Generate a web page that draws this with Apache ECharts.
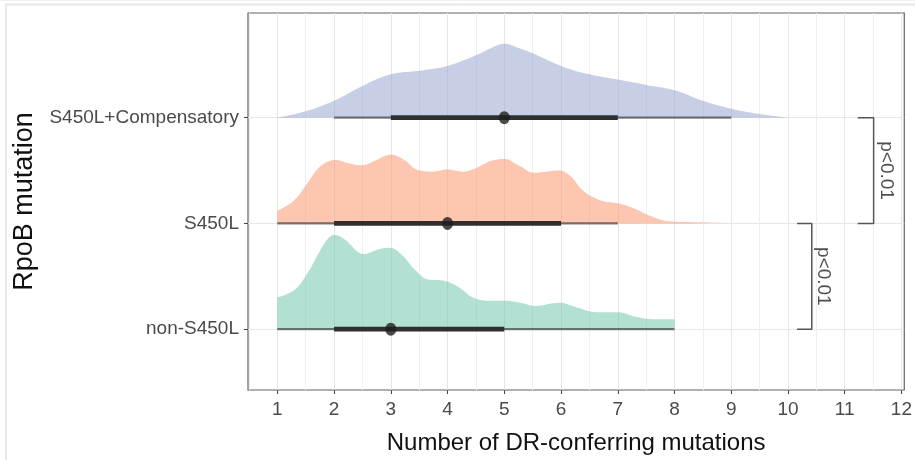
<!DOCTYPE html>
<html><head><meta charset="utf-8">
<script src="https://cdn.jsdelivr.net/npm/echarts@6/dist/echarts.min.js"></script>
<style>html,body{margin:0;padding:0;background:#fff}#c{width:915px;height:460px}</style>
</head><body><div id="c"></div>
<script>
// ---- data ----
const categories = ['non-S450L', 'S450L', 'S450L+Compensatory'];
const xTickValues = [1, 2, 3, 4, 5, 6, 7, 8, 9, 10, 11, 12];
const xMinorValues = [0.5, 1.5, 2.5, 3.5, 4.5, 5.5, 6.5, 7.5, 8.5, 9.5, 10.5, 11.5];
// density heights (in category units above each baseline)
const densityNonS450L = [[1, 0.30], [1.3, 0.37], [1.53, 0.53], [1.76, 0.75], [1.9, 0.86], [2.0, 0.89], [2.1, 0.88], [2.21, 0.84], [2.52, 0.71], [2.75, 0.75], [2.97, 0.77], [3.2, 0.70], [3.43, 0.56], [3.66, 0.47], [3.92, 0.46], [4.19, 0.40], [4.45, 0.30], [4.72, 0.27], [5.02, 0.27], [5.29, 0.25], [5.55, 0.22], [5.97, 0.25], [6.31, 0.20], [6.62, 0.16], [7.0, 0.16], [7.3, 0.12], [7.6, 0.095], [8.0, 0.095]];
const densityS450L = [[1, 0.12], [1.3, 0.22], [1.53, 0.38], [1.76, 0.54], [2.02, 0.60], [2.25, 0.57], [2.48, 0.55], [2.75, 0.60], [2.9, 0.64], [3.0, 0.65], [3.1, 0.64], [3.24, 0.60], [3.5, 0.50], [3.73, 0.49], [4.0, 0.51], [4.26, 0.49], [4.49, 0.52], [4.76, 0.59], [5.0, 0.61], [5.25, 0.55], [5.52, 0.48], [5.74, 0.49], [5.97, 0.50], [6.16, 0.45], [6.39, 0.31], [6.69, 0.22], [7.0, 0.19], [7.3, 0.14], [7.6, 0.066], [7.9, 0.02], [8.3, 0.012], [9.0, 0.01]];
const densityComp = [[1, 0], [1.5, 0.06], [2, 0.16], [2.5, 0.30], [3, 0.41], [3.5, 0.445], [4, 0.49], [4.5, 0.59], [4.75, 0.655], [5, 0.70], [5.25, 0.66], [5.5, 0.61], [6, 0.49], [6.5, 0.41], [7, 0.36], [7.5, 0.31], [8, 0.26], [8.5, 0.16], [9, 0.085], [9.5, 0.035], [10, 0]];
const medians = [3, 4, 5];
const innerIntervals = [[2, 5], [2, 6], [3, 7]];
const outerIntervals = [[1, 8], [1, 7], [2, 9]];
const comparisons = [[2, 3], [1, 2]];
const pLabels = ['p<0.01', 'p<0.01'];

// ---- styling / layout ----
const densities = [densityNonS450L, densityS450L, densityComp];
const fills = ['rgba(102,194,165,0.5)', 'rgba(252,141,98,0.5)', 'rgba(141,160,203,0.5)'];
const bracketX = [[11.23, 11.51], [10.16, 10.42]];
const bracketTextX = [11.74, 10.63];
const FONT = '"Liberation Sans", Arial, sans-serif';

const series = [];
categories.forEach((c, i) => {
  const b = i + 1;
  series.push({
    type: 'line', name: c, smooth: 0.4, symbol: 'none', z: 1,
    data: densities[i].map(d => [d[0], b + d[1]]),
    lineStyle: { width: 0 },
    areaStyle: { color: fills[i], opacity: 1, origin: b },
    silent: true
  });
});
categories.forEach((c, i) => {
  const b = i + 1;
  series.push({
    type: 'line', symbol: 'none', z: 3, silent: true,
    data: [[outerIntervals[i][0], b], [outerIntervals[i][1], b]],
    lineStyle: { color: 'rgba(40,40,40,0.6)', width: 2.2 }
  });
  series.push({
    type: 'line', symbol: 'none', z: 4, silent: true,
    data: [[innerIntervals[i][0], b], [innerIntervals[i][1], b]],
    lineStyle: { color: '#2f2f2f', width: 4.8 }
  });
  series.push({
    type: 'scatter', z: 5, silent: true,
    data: [[medians[i], b]],
    symbol: 'circle', symbolSize: [11, 13],
    itemStyle: { color: '#1e1e1e' }
  });
});
comparisons.forEach((pair, k) => {
  const [x0, x1] = bracketX[k];
  series.push({
    type: 'line', symbol: 'none', z: 3, silent: true,
    data: [[x0, pair[1]], [x1, pair[1]], [x1, pair[0]], [x0, pair[0]]],
    lineStyle: { color: '#555', width: 1.5 }
  });
  series.push({
    type: 'scatter', z: 5, silent: true, symbolSize: 0,
    data: [[bracketTextX[k], (pair[0] + pair[1]) / 2]],
    label: { show: true, position: 'inside', rotate: -90, formatter: pLabels[k],
      fontSize: 19, color: '#222', fontFamily: FONT }
  });
});

const chart = echarts.init(document.getElementById('c'), null, { renderer: 'canvas' });
chart.setOption({
  animation: false,
  backgroundColor: '#fff',
  grid: { left: 248, right: 9, top: 13, bottom: 69, show: true, borderColor: '#626262', borderWidth: 1.2, containLabel: false },
  graphic: [
    { type: 'polyline', shape: { points: [[6, 460], [6, 4.5], [915, 4.5]] }, style: { stroke: '#e8e8e8', lineWidth: 2, fill: null }, silent: true },
    { type: 'line', shape: { x1: 0, y1: 0.5, x2: 915, y2: 0.5 }, style: { stroke: '#f0f0f0', lineWidth: 1 }, silent: true }
  ],
  xAxis: [
    {
      type: 'value', min: 0.483, max: 12.05, position: 'bottom',
      name: 'Number of DR-conferring mutations', nameLocation: 'middle', nameGap: 41,
      nameTextStyle: { fontSize: 24, color: '#111', fontFamily: FONT },
      axisLine: { show: false },
      axisTick: { show: true, length: 4, customValues: xTickValues, lineStyle: { color: '#444' } },
      axisLabel: { customValues: xTickValues, fontSize: 19, color: '#4a4a4a', margin: 10, fontFamily: FONT },
      splitLine: { show: true, lineStyle: { color: '#e6e6e6', width: 1 } }
    },
    {
      type: 'value', min: 0.483, max: 12.05, position: 'bottom',
      axisLine: { show: false },
      axisTick: { show: false, customValues: xMinorValues },
      axisLabel: { show: false, customValues: xMinorValues },
      splitLine: { show: true, lineStyle: { color: '#efefef', width: 1 } }
    }
  ],
  yAxis: {
    type: 'value', min: 0.425, max: 3.99,
    name: 'RpoB mutation', nameLocation: 'middle', nameGap: 203, nameRotate: 90,
    nameTextStyle: { fontSize: 27, color: '#111', fontFamily: FONT },
    axisLine: { show: false },
    axisTick: { show: true, length: 4, customValues: [1, 2, 3], lineStyle: { color: '#444' } },
    axisLabel: { customValues: [1, 2, 3], formatter: v => categories[Math.round(v) - 1], fontSize: 19, color: '#4a4a4a', margin: 9, fontFamily: FONT },
    splitLine: { show: true, lineStyle: { color: '#e6e6e6', width: 1 } }
  },
  series: series
});
</script>
</body></html>
